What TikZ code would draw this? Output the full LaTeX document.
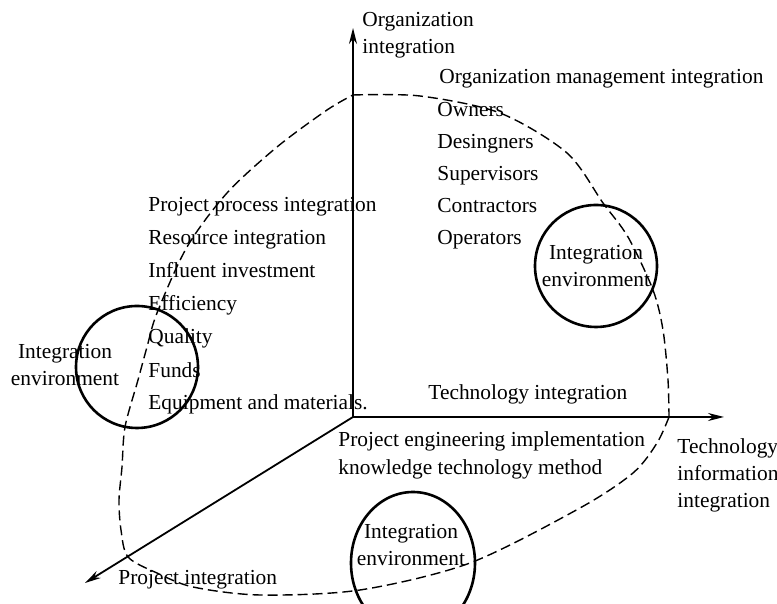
\documentclass[tikz,border=0pt]{standalone}
\usepackage{fontspec}
\setmainfont{Liberation Serif}
\usetikzlibrary{arrows.meta,shapes.geometric}

\begin{document}
\begin{tikzpicture}[x=0.5pt,y=0.5pt,font=\fontsize{10.7}{13.5}\selectfont,
	>={Stealth[length=8pt,width=4pt]},
	txt/.style={anchor=base west,inner sep=0pt},
	axis/.style={->,line width=0.9pt},
	ring/.style={draw,line width=1.3pt,inner sep=0pt},
	bound/.style={dash pattern=on 5pt off 2.5pt,line width=0.7pt}]
	\useasboundingbox (0,0) rectangle (777,604);

	% axes
	\coordinate (O) at (353,187);
	\coordinate (yend) at (353,576);
	\coordinate (xend) at (724,187);
	\coordinate (zend) at (85,21);
	\draw[axis] (O) -- (yend);
	\draw[axis] (O) -- (xend);
	\draw[axis] (O) -- (zend);
	\node[anchor=west,inner sep=0pt,align=left] (ly) at (362,569) {Organization\\integration};
	\node[anchor=west,inner sep=0pt,align=left] (lx) at (677,129) {Technology\\information\\integration};
	\node[txt] (lz) at (118,19) {Project integration};

	% organization side
	\node[txt] (org) at (439,520) {Organization management integration};
	\node[txt] (org1) at (437,487) {Owners};
	\node[txt] (org2) at (437,455) {Desingners};
	\node[txt] (org3) at (437,423) {Supervisors};
	\node[txt] (org4) at (437,391) {Contractors};
	\node[txt] (org5) at (437,359) {Operators};

	% project side
	\node[txt] (prj1) at (148,392) {Project process integration};
	\node[txt] (prj2) at (148,359) {Resource integration};
	\node[txt] (prj3) at (148,326) {Influent investment};
	\node[txt] (prj4) at (148,293) {Efficiency};
	\node[txt] (prj5) at (148,260) {Quality};
	\node[txt] (prj6) at (148,226) {Funds};
	\node[txt] (prj7) at (148,194) {Equipment and materials.};

	% technology side
	\node[txt] (tec) at (428,204) {Technology integration};
	\node[txt] (tec1) at (338,157) {Project engineering implementation};
	\node[txt] (tec2) at (338,129) {knowledge technology method};

	% boundary
	\draw[bound] plot[smooth] coordinates {(353,509) (420,508) (500,491) (567,451) (603,401) (628,367) (653,314) (663,274) (668,224) (669,187)}
		plot[smooth] coordinates {(669,187) (657,161) (633,131) (580,96) (470,41) (360,14) (260,9) (193,17) (157,31) (128,47) (121,74) (119,104) (122,137) (125,177) (138,224) (147,257) (157,291) (187,357) (227,411) (277,457) (327,494) (353,509)};

	% environments
	\node[ring,circle,minimum size=61pt] (envL) at (137,237) {};
	\node[align=center,inner sep=0pt] (envLtxt) at (65,239) {Integration\\environment};
	\node[ring,circle,minimum size=61pt,align=center] (envR) at (596,338) {Integration\\environment};
	\node[ring,ellipse,minimum width=62pt,minimum height=71pt] (envB) at (413,41) {};
	\node[align=center,inner sep=0pt] (envBtxt) at (411,59) {Integration\\environment};
\end{tikzpicture}
\end{document}
